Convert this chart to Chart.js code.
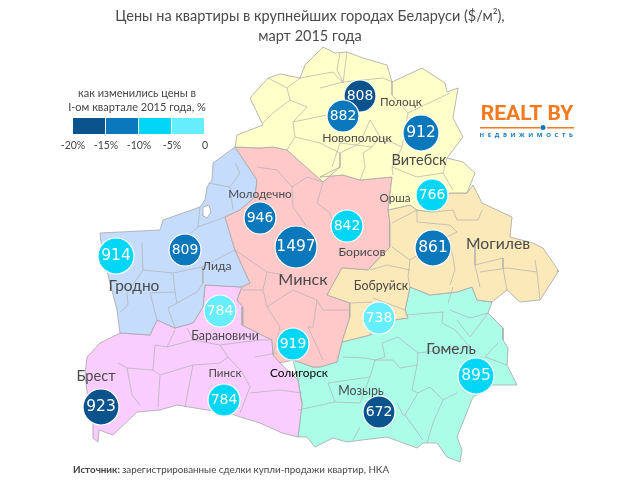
<!DOCTYPE html>
<html lang="ru"><head><meta charset="utf-8">
<style>html,body{margin:0;padding:0;background:#fff}canvas{display:block}</style>
<script src="https://cdn.jsdelivr.net/npm/chart.js@4"></script>
</head><body><canvas id="c" width="620" height="486"></canvas>
<script>
const titleLines = ["Цены на квартиры в крупнейших городах Беларуси ($/м²),", "март 2015 года"];
const sourceBold = "Источник:";
const sourceText = "зарегистрированные сделки купли-продажи квартир, НКА";
const legendTitle = ["как изменились цены в", "I-ом квартале 2015 года, %"];
const legendTicks = ["-20%", "-15%", "-10%", "-5%", "0"];
const bandColors = ["#0b538c", "#0a78bb", "#00d6f5", "#66eeff"];

// bubbles
const cities = ["Полоцк","Новополоцк","Витебск","Орша","Борисов","Могилев","Молодечно","Минск","Гродно","Лида","Барановичи","Солигорск","Пинск","Брест","Мозырь","Гомель","Бобруйск"];
const prices = [808,882,912,766,842,861,946,1497,914,809,784,919,784,923,672,895,738];
const priceBand = [0,1,1,2,2,1,1,1,2,1,3,2,2,0,0,2,3];
const cityX = [360,343,421,432,347,433,260,296,116,185,220,293,224,101,379,476,379];
const cityY = [96,116,133,195,226,248,218,247,256,250,311,344,400,407,412,376,318];
const cityR = [16,16,18,16,16,18,16,21,18,16,16,16,16,18,16,18,16];
// city names
const nameX = [401,357,419,395,362,498,260,303,134,217,225,299,225,96,361,451,381];
const nameY = [102,138,160,198,252,244,194,280,286,266,336,373,373,376,391,349,286];
const nameSize = [11.8,12.1,14.5,11.6,12.2,15.7,11.8,16.2,15.5,12.2,12.4,11.9,11.6,14.6,12.4,15.4,12.4];

// regions outlines [x,y,...]
const vitebsk = [235,147,237,135,263,125,250,98,268,78,280,74,300,78,305,65,323,47,335,53,347,52,363,58,387,65,392,82,422,68,445,83,447,92,458,88,453,118,463,137,447,158,463,162,475,173,467,193,450,193,433,212,417,210,410,205,388,210,392,177,360,180,343,175,320,177,340,167,323,182,287,150,273,147,260,148,235,147];
const mogilev = [388,210,410,205,417,210,433,212,450,193,467,193,473,185,482,203,512,217,510,237,533,243,543,248,558,270,558,272,540,300,520,302,507,290,492,302,477,300,472,287,457,292,430,295,410,287,405,310,408,318,393,320,370,335,342,342,350,317,350,303,327,295,342,268,368,270,390,247,390,223,388,210];
const minsk = [235,147,260,148,273,147,287,150,323,182,340,167,320,177,343,175,360,180,392,177,388,210,390,223,390,247,368,270,342,268,327,295,350,303,350,317,342,342,337,362,320,367,313,367,293,360,280,363,273,355,272,340,242,325,243,307,237,300,242,287,250,283,235,250,225,217,240,210,255,197,257,180,235,147];
const grodno = [235,147,213,163,212,180,207,187,205,200,200,207,183,213,163,220,160,230,100,233,102,250,108,275,117,310,120,333,150,335,157,320,175,328,193,323,203,307,205,285,242,287,250,283,235,250,225,217,240,210,255,197,257,180,235,147];
const brest = [205,285,242,287,237,300,243,307,242,325,272,340,273,355,280,363,298,380,302,405,298,437,282,433,260,423,240,417,230,413,207,410,177,405,160,410,137,412,113,435,99,430,98,442,93,438,93,425,88,400,85,375,87,357,100,343,120,333,150,335,157,320,175,328,193,323,203,307,205,285];
const gomel = [410,287,430,295,457,292,472,287,477,300,492,302,488,313,503,328,503,340,508,348,507,365,517,385,493,385,473,397,457,437,462,450,460,462,447,457,437,443,423,443,417,448,387,437,362,440,347,442,333,438,315,447,307,437,298,437,302,403,298,380,293,360,313,367,320,367,337,362,342,342,370,335,393,320,408,318,405,310,410,287];
const enclave = [203,207,209,205,211,212,207,218,202,215,203,207];
const regions = [enclave, vitebsk, mogilev, minsk, grodno, brest, gomel];
const regionColors = ["#ffffff","#ffffc9","#fce9b9","#ffc9c9","#c5dcfd","#f9cdfd","#abfde8"];

// district borders
const districts = [
 [287,88,300,78],[268,78,287,88,290,100,273,113,263,123],[290,100,307,107,293,122,295,137,287,150],[293,122,317,117,337,113],
 [300,78,333,72,343,83,347,52],[295,137,320,143,340,153,340,167],[340,153,360,143,370,120],[320,88,343,82,337,70,340,53],
 [343,82,383,78,392,82],[392,82,392,95,408,113,450,93],[370,120,380,137,372,147,363,153,365,167,360,180],[332,167,340,143,372,147],
 [380,137,402,147,392,167,393,175],[392,167,417,177,443,173,447,158],[443,173,453,190],[408,113,402,147],
 [392,223,417,210],[417,222,450,225,457,232,447,237],[482,210,478,220,457,220,453,210,433,212],[417,222,417,210],[447,237,453,257,455,270,450,285],
 [410,260,408,277,410,287],[410,270,387,265,370,270],[373,298,405,310],[350,303,372,302,370,335],[475,265,480,287],[475,240,475,265,503,258,503,268,507,290],
 [507,268,537,272,540,300],[535,260,537,272],[480,272,507,268],[392,247,410,260,447,237],
 [257,167,277,170,292,187,307,177,323,182],[292,187,293,207,307,227],[323,182,317,203,330,213,333,223],[267,272,263,290,267,307],
 [242,290,263,290],[235,250,267,272,285,275],[267,307,293,290,317,300,323,310,350,310],[280,327,267,307],[317,300,313,327,308,327,323,360],[280,327,273,355],
 [142,243,143,270,127,293,128,305,120,312],[143,270,173,273,175,292,150,293,157,320],[175,292,177,303,168,308,175,328],[177,303,197,292,203,283],
 [173,273,202,267,203,283],[233,210,230,187,240,173,235,163],[230,187,208,183],[200,207,198,227,183,240],[225,217,198,227],[202,267,235,250],
 [167,347,155,345,153,370,160,375,158,407],[118,363,127,368,132,395,140,405],[127,368,153,370],[160,375,193,365,185,407],[193,365,220,363,228,357,220,345,193,340,187,328],
 [167,347,175,330],[167,347,193,340],[220,345,260,340,272,340],[228,357,242,372,250,387,240,413],[250,393,280,390,302,393],[255,357,277,353],
 [298,410,335,402,360,403],[328,383,335,402],[328,383,370,377,375,360,365,358,343,357],[375,360,393,360,400,368,417,365,418,353,398,337,382,343,385,357,375,360],
 [417,365,412,390,418,393,405,415,403,415,397,403],[418,393,430,387,443,400,457,393],[443,400,433,423,427,443],[418,353,470,347,455,330,442,323,443,312,405,315],
 [457,320,470,337,488,313],[448,303,453,287],[450,310,470,318,488,313],[360,427,353,440],[405,415,423,440],[498,343,485,357,507,365],[370,377,360,403]
];

const W = 620, H = 486, titleH = 46;
const toPts = a => { const p = []; for (let i = 0; i < a.length; i += 2) p.push({x:a[i], y:a[i+1]}); return p; };
const datasets = [];
cities.forEach((c,i) => {
  datasets.push({type:'bubble', label:c, order:i===0?20:(i===1?5:10),
    data:[{x:cityX[i], y:cityY[i], r:cityR[i], v:prices[i]}],
    backgroundColor:bandColors[priceBand[i]], borderColor:'#ffffff', borderWidth:1.2, hoverRadius:0});
});
districts.forEach(d => datasets.push({type:'line', label:'', data:toPts(d), order:40, parsing:false,
  borderColor:'#b0b0b0', borderWidth:0.7, pointRadius:0, fill:false, tension:0}));
regions.forEach((r,i) => datasets.push({type:'line', label:'', data:toPts(r), order:50, parsing:false,
  backgroundColor:regionColors[i], borderColor:'#a6a6a6', borderWidth:0.8, pointRadius:0, fill:'shape', tension:0}));

const textPlugin = {
  id:'mapText',
  afterDatasetsDraw(chart){
    const {ctx, scales:{x,y}} = chart;
    const T = (s,px,py,font,col,align) => { ctx.font=font; ctx.fillStyle=col; ctx.textAlign=align||'center'; ctx.textBaseline='middle'; ctx.fillText(s,x.getPixelForValue(px),y.getPixelForValue(py)); };
    ctx.save();
    cities.forEach((c,i) => T(c,nameX[i],nameY[i],nameSize[i]+'px Lato', c==='Солигорск'?'#000':'#4a4a4a'));
    prices.forEach((p,i) => T(String(p),cityX[i],cityY[i],(cityR[i]>=18?15.5:14)+'px "DejaVu Sans"','#fff'));
    legendTitle.forEach((s,i) => T(s,137,93+i*14,'11px Lato','#444'));
    bandColors.forEach((col,i) => { ctx.fillStyle=col; const x0=x.getPixelForValue(73+i*33); ctx.fillRect(x0,y.getPixelForValue(118),32,16); });
    legendTicks.forEach((s,i) => T(s,73+i*33,146,'10.5px Lato','#444'));
    T(sourceBold,73,470,'bold 9.8px Lato','#444','left');
    const w = ctx.measureText(sourceBold).width;
    T(sourceText,73+w+2,470,'9.8px Lato','#444','left');
    T('REALT BY',527,115,'bold 21px Roboto','#f47a20');
    ctx.fillStyle='#f47a20';
    ctx.fillRect(x.getPixelForValue(480),y.getPixelForValue(127),60,1.5);
    ctx.fillRect(x.getPixelForValue(547),y.getPixelForValue(127),27,1.5);
    ctx.fillStyle='#0a78bb'; ctx.beginPath(); ctx.arc(x.getPixelForValue(543),y.getPixelForValue(127.5),2.5,0,7); ctx.fill();
    ctx.letterSpacing='3.6px';
    T('НЕДВИЖИМОСТЬ',528,135,'bold 6px "Open Sans"','#0a78bb');
    ctx.letterSpacing='0px';
    ctx.restore();
  }
};

new Chart(document.getElementById('c'), {
  data:{datasets},
  options:{
    responsive:false, animation:false, devicePixelRatio:1,
    layout:{padding:0, autoPadding:false},
    events:[],
    clip:false,
    scales:{
      x:{type:'linear',min:0,max:W,display:false},
      y:{type:'linear',min:titleH,max:H,reverse:true,display:false}
    },
    plugins:{
      legend:{display:false}, tooltip:{enabled:false},
      title:{display:true,text:titleLines,color:'#4a4a4a',font:{family:'Lato',size:14.5,weight:'normal',lineHeight:1.38},padding:{top:6,bottom:0}}
    }
  },
  plugins:[textPlugin]
});
</script></body></html>
